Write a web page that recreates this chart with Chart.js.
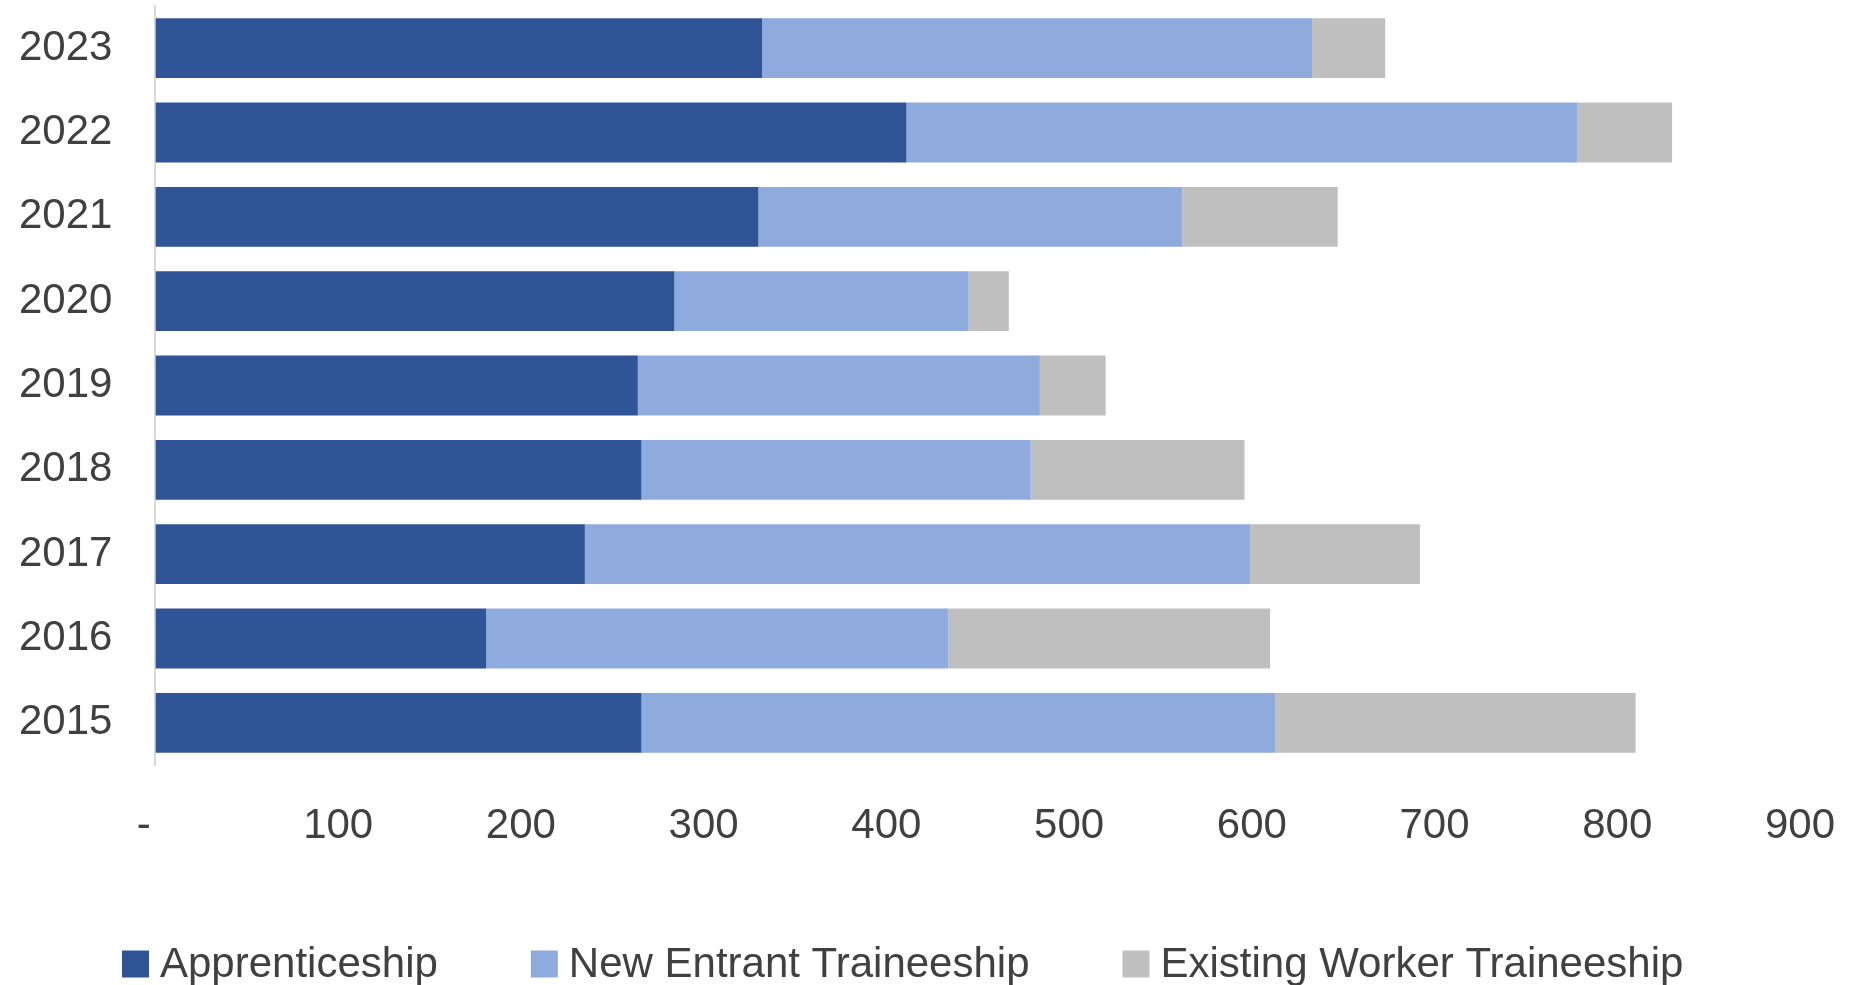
<!DOCTYPE html>
<html>
<head>
<meta charset="utf-8">
<script src="https://cdn.jsdelivr.net/npm/chart.js@4/dist/chart.umd.min.js"></script>
<style>
  html, body { margin: 0; padding: 0; background: #fff; }
  #wrap { width: 1850px; height: 985px; position: relative; }
</style>
</head>
<body>
<div id="wrap"><canvas id="chart"></canvas></div>
<script>
// values, oldest year first
const years = ['2015', '2016', '2017', '2018', '2019', '2020', '2021', '2022', '2023'];
const apprenticeship = [266, 181, 235, 266, 264, 284, 330, 411, 332];
const newEntrant     = [347, 253, 364, 213, 220, 161, 232, 367, 301];
const existingWorker = [197, 176,  93, 117,  36,  22,  85,  52,  40];
const xTicks = [0, 100, 200, 300, 400, 500, 600, 700, 800, 900];

const FONT = '"Liberation Sans", Arial, sans-serif';
const TEXT = '#404040';

function makeSet(label, data, color) {
  return {
    label: label,
    data: data,
    backgroundColor: color,
    borderWidth: 0,
    categoryPercentage: 1.0,
    barPercentage: 0.71,
  };
}

// Excel-style legend row under the axis: small square, short gap, wide spacing between items
const bottomLegend = {
  id: 'bottomLegend',
  afterDraw(chart, args, opts) {
    const ctx = chart.ctx;
    ctx.save();
    ctx.font = opts.size + 'px ' + FONT;
    ctx.textBaseline = 'middle';
    let x = opts.left;
    chart.data.datasets.forEach((ds) => {
      ctx.fillStyle = ds.backgroundColor;
      ctx.fillRect(x, opts.y - opts.box / 2, opts.box, opts.box);
      x += opts.box + opts.gap;
      ctx.fillStyle = TEXT;
      ctx.fillText(ds.label, x, opts.y + 1);
      x += ctx.measureText(ds.label).width + opts.spacing;
    });
    ctx.restore();
  },
};

new Chart(document.getElementById('chart').getContext('2d'), {
  type: 'bar',
  data: {
    labels: years,
    datasets: [
      makeSet('Apprenticeship', apprenticeship, '#2F5597'),
      makeSet('New Entrant Traineeship', newEntrant, '#8FAADC'),
      makeSet('Existing Worker Traineeship', existingWorker, '#BFBFBF'),
    ],
  },
  plugins: [bottomLegend],
  options: {
    indexAxis: 'y',
    responsive: true,
    maintainAspectRatio: false,
    animation: false,
    layout: { padding: { left: -24, right: 50, top: 6, bottom: 0 } },
    plugins: {
      tooltip: { enabled: false },
      legend: { display: false },
      bottomLegend: { left: 122, y: 964, box: 27, gap: 11, spacing: 93, size: 42 },
    },
    scales: {
      x: {
        stacked: true,
        min: 0,
        max: 900,
        afterBuildTicks: (axis) => { axis.ticks = xTicks.map(v => ({ value: v })); },
        afterFit: (scale) => {
          scale.paddingLeft = 0;
          scale.paddingRight = 0;
          scale.height = 220;
        },
        ticks: {
          font: { family: FONT, size: 42 },
          color: TEXT,
          padding: 36,
          maxRotation: 0,
          // accounting-style zero: a dash with trailing spaces
          callback: (v) => (v === 0 ? '-  ' : v),
        },
        grid: { display: false, drawTicks: false },
        border: { display: false },
      },
      y: {
        stacked: true,
        reverse: true,
        afterFit: (scale) => {
          scale.paddingTop = 0;
          scale.paddingBottom = 0;
        },
        ticks: {
          font: { family: FONT, size: 42 },
          color: TEXT,
          padding: 43,
        },
        grid: { display: false, drawTicks: false },
        border: { display: true, color: '#D9D9D9', width: 2 },
      },
    },
  },
});
</script>
</body>
</html>
